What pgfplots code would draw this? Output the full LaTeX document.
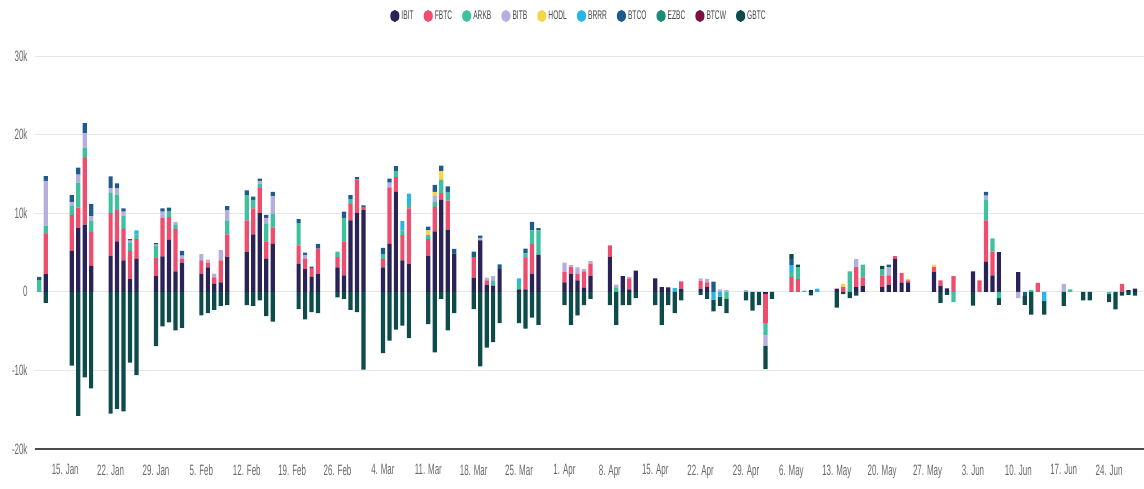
\documentclass[border=0pt]{standalone}
\usepackage{fontspec}
\setmainfont{Liberation Sans}[FakeStretch=0.53]
\usepackage{pgfplots}
\usepackage{pgfplotstable}
\pgfplotsset{compat=1.18}

\definecolor{cIBIT}{HTML}{2B2257}
\definecolor{cFBTC}{HTML}{EF4D6E}
\definecolor{cARKB}{HTML}{41C0A0}
\definecolor{cBITB}{HTML}{B5AEE0}
\definecolor{cHODL}{HTML}{F7D347}
\definecolor{cBRRR}{HTML}{29B6E6}
\definecolor{cBTCO}{HTML}{1E5A8C}
\definecolor{cEZBC}{HTML}{1C8C76}
\definecolor{cBTCW}{HTML}{7C1140}
\definecolor{cGBTC}{HTML}{0E4B4B}
\definecolor{TickText}{HTML}{666666}
\definecolor{LegText}{HTML}{444444}
\definecolor{GridColor}{HTML}{E6E6E6}
\definecolor{AxisColor}{HTML}{4D4D4D}

% daily net flows in thousand BTC, d = day of year 2024
\pgfplotstableread{
d ibit fbtc arkb bitb hodl brrr btco ezbc btcw gbtc
11 0 0 1.5 0 0 0 0.4 0 0 0
12 2.25 5.1 1.06 5.7 0 0 0.6 0 0 -1.4
16 5.2 4.6 1.2 0.4 0 0 0.9 0 0 -9.4
17 8.1 2.6 3.2 1.0 0 0 0.9 0 0 -15.8
18 8.55 8.5 1.3 1.8 0 0 1.3 0 0 -10.9
19 3.3 4.3 1.4 0.6 0 0 1.6 0 0 -12.3
22 4.6 5.4 2.6 0.6 0 0 1.5 0 0 -15.5
23 6.4 4.0 2.0 0.8 0 0 0.6 0 0 -14.9
24 4.0 4.0 1.7 0.5 0 0 0.4 0 0 -15.2
25 1.6 3.6 1.1 0.2 0 0 0.2 0 0 -9.0
26 4.2 2.5 0.6 0 0 0.5 0 0 0 -10.6
29 2.0 2.3 1.5 0.2 0 0 0.2 0 0 -6.9
30 4.5 4.9 0 0.8 0 0 0.4 0 0 -4.4
31 6.6 2.9 0.8 0 0 0 0.4 0 0 -3.9
32 2.6 5.4 0.5 0.4 0 0 0 0 0 -4.9
33 3.7 0.5 0 0.4 0 0 0.6 0 0 -4.6
36 2.3 1.7 0 0.8 0 0 0 0 0 -3.0
37 3.1 0.6 0 0.4 0 0 0 0 0 -2.7
38 1.0 0.85 0 0.45 0 0 0 0 0 -2.3
39 1.2 2.8 0 1.3 0 0 0 0 0 -1.8
40 4.4 2.9 1.8 1.3 0 0 0.5 0 0 -1.7
43 5.1 4.0 3.2 0 0 0 0.6 0 0 -1.7
44 7.3 3.3 1.1 0 0 0 0.4 0 0 -1.8
45 10.0 3.2 0.5 0.4 0 0 0.3 0 0 -1.1
46 4.2 2.2 2.3 0.7 0 0 0.4 0 0 -3.1
47 6.1 2.1 1.7 2.3 0 0 0.5 0 0 -3.8
51 3.6 2.3 2.85 0 0 0 0.5 0 0 -2.2
52 2.9 1.3 0 0.5 0 0 0.3 0 0 -3.5
53 1.9 1.1 0 0 0 0 0.2 0 0 -2.6
54 2.3 3.2 0 0 0 0 0.6 0 0 -2.7
57 3.1 1.3 0.7 0 0 0 0 0 0 -0.7
58 2.1 4.3 3.0 0 0 0 0.8 0 0 -0.9
59 9.1 2.1 0.6 0 0 0 0.5 0 0 -2.3
60 10.0 4.3 0 0 0 0 0.3 0 0 -2.6
61 10.4 0.4 0 0 0 0 0.2 0 0 -9.9
64 3.1 1.1 0.6 0 0 0 0.8 0 0 -7.8
65 6.1 7.2 0 0.6 0 0 0.5 0 0 -6.2
66 12.7 1.9 0.8 0 0 0 0.6 0 0 -4.8
67 4.0 3.2 0.6 0 0 1.2 0 0 0 -4.3
68 3.6 7.0 0.6 0 0 1.3 0 0 0 -5.9
71 4.6 2.1 0.5 0 0.6 0 0.5 0 0 -4.1
72 7.7 3.1 0.6 0.8 0.5 0 0.9 0 0 -7.7
73 11.7 0.85 1.7 0 1.1 0 0.7 0 0 -0.9
74 7.9 3.7 1.1 0 0 0 0.7 0 0 -4.9
75 4.85 0 0 0 0 0 0.6 0 0 -2.7
78 1.8 2.6 0 0 0 0 0.7 0 0 -2.2
79 6.55 0 0 0.3 0 0 0.3 0 0 -9.5
80 0.9 0.55 0 0.35 0 0 0 0 0 -7.1
81 0.8 0 0.6 0.6 0 0 0 0 0 -6.4
82 2.9 0 0 0 0 0 0.6 0 0 -4.0
85 0.3 0 0.8 0 0 0.6 0 0 0 -4.0
86 0.3 4.0 0.6 0 0 0 0.6 0 0 -4.7
87 2.3 3.8 1.7 0 0 0 1.1 0 0 -3.3
88 4.7 0 3.1 0 0 0 0.3 0 0 -4.2
92 1.2 1.3 0 1.2 0 0 0 0 0 -1.7
93 2.3 0.85 0 0.25 0 0 0 0 0 -4.2
94 1.45 0.85 0 0.8 0 0 0 0 0 -3.0
95 0.5 2.1 0 0.3 0 0 0 0 0 -1.7
96 2.0 1.6 0 0.3 0 0 0 0 0 -0.9
99 4.4 1.5 0 0 0 0 0 0 0 -1.7
100 0 0 0.5 0.4 0 0 0 0 0 -4.2
101 2.0 0 0 0 0 0 0 0 0 -1.7
102 0.3 1.4 0 0.2 0 0 0 0 0 -1.7
103 2.7 0 0 0 0 0 0 0 0 -0.8
106 1.7 0 0 0 0 0 0 0 0 -1.7
107 0.6 0 0 0 0 0 0 0 0 -4.2
108 0.55 0 0 0 0 0 0 0 0 -1.7
109 0 0 0 0 0 0.5 0 0 0 -2.7
110 0.4 0.85 0 0.15 0 0 0 0 0 -1.1
113 0.4 0.95 0 0.35 0 0 0 0 0 -0.4
114 0.6 0.6 0 0.45 0 0 0 0 0 -0.9
115 0 0 0 0 0 -1.0 1.3 0 0 -1.5
116 0 0 0 0.3 0 -0.6 0 0 0 -1.2
117 0 0 -0.9 0.2 0 0 0 0 0 -1.8
120 0 0 0 0.2 0 0 0 0 0 -1.1
121 0 0 0 0 0 0 0 0 0 -2.4
122 0 0 0 0 0 0 0 0 0 -1.7
123 -0.25 -3.7 -1.6 -1.3 0 0 0 0 0 -3.0
124 0 0 0 0 0 0 0 0 0 -0.9
127 0 1.9 0.6 0 0 0.9 0.8 0 0 0.6
128 0 1.65 1.5 0 0 0 0 0 0 0.3
129 0 0 0.15 0 0 0 0 0 0 0
130 0.2 0 0 0 0 0 0 0 0 -0.45
131 0 0 0 0 0 0.4 0 0 0 0
134 0.4 0 0 0 0 0 0 0 0 -2.0
135 0 0.6 0 0 0.4 0 0 0 0 -0.3
136 0 0 2.6 0 0 0 0 0 0 -0.8
137 0.6 2.55 0 1.0 0 0 0 0 0 -0.5
138 0.8 1.05 1.6 0 0 0 0 0 0 0
141 0.6 1.5 0.8 0 0 0 0 0 0 0.4
142 0.9 1.2 0 1.05 0 0 0.3 0 0 0
143 4.2 0.35 0 0 0 0 0 0 0 0
144 1.15 1.25 0 0 0 0 0 0 0 0
145 1.2 0.25 0 0 0.2 0 0 0 0 0
149 2.5 0.65 0 0 0.3 0 0 0 0 0
150 0.8 0.65 0 0 0 0 0 0 0 -1.4
151 0.45 0 0 0 0 0 0 0 0 -0.4
152 0 2.0 -1.3 0 0 0 0 0 0 0
155 2.6 0 0 0 0 0 0 0 0 -1.75
156 0 1.45 0 0 0 0 0 0 0 0
157 3.8 5.3 2.55 0.6 0 0 0.45 0 0 0
158 2.1 3.0 1.7 0 0 0 0 0 0 0
159 5.05 0 -0.8 0 0 0 0 0 0 -0.85
162 2.5 0 0 -0.8 0 0 0 0 0 0
163 0 0 0 0 0 0 -0.5 0 0 -1.15
164 0 0 0.2 0 0 0 0 0 0 -2.9
165 0 1.15 0 0 0 0 0 0 0 0
166 0 0 0 0 0 -1.2 0 0 0 -1.7
169 0 0 0 1.0 0 0 0 0 0 -1.8
170 0 0 0.3 0 0 0 0 0 0 0
172 0 0 0 0 0 0 0 0 0 -1.1
173 0 0 0 0 0 0 0 0 0 -1.1
176 0 0 -0.3 0 0 0 0 0 0 -1.0
177 0 0 0 0 0 0 0 0 0 -2.25
178 0 1.0 0 0 0 0 0 0 0 -0.5
179 0.2 0 0 0 0 0 0 0 0 -0.4
180 0.4 0 0 0 0 0 0 0 0 -0.5
}\flows

\pgfplotsset{
    flowaxis/.style={
        at={(35pt,39pt)},
        anchor=south west,
        scale only axis,
        width=1109pt,
        height=393pt,
        xmin=10.34,
        xmax=181.38,
        ymin=-20,
        ymax=30,
        ybar stacked,
        bar width=4.2pt
    },
    legdot/.style={
        legend image code/.code={
            \fill[#1] (0pt,0pt) ellipse (4.6pt and 6pt);
        }
    }
}

\begin{document}
\begin{tikzpicture}
\path[use as bounding box] (0,0) rectangle (1144pt,488pt);

% ========================================================
% inflows (positive stack), grid, ticks and legend
% ========================================================
\begin{axis}[
    flowaxis,
    axis x line*=bottom,
    axis y line*=left,
    y axis line style={draw=none},
    x axis line style={AxisColor, line width=2pt},
    major tick length=0pt,
    ytick={-20,-10,0,10,20,30},
    yticklabels={-20k,-10k,0,10k,20k,30k},
    xtick={15,22,29,36,43,50,57,64,71,78,85,92,99,106,113,120,127,134,141,148,155,162,169,176},
    xticklabels={15. Jan,22. Jan,29. Jan,5. Feb,12. Feb,19. Feb,26. Feb,4. Mar,11. Mar,18. Mar,25. Mar,1. Apr,8. Apr,15. Apr,22. Apr,29. Apr,6. May,13. May,20. May,27. May,3. Jun,10. Jun,17. Jun,24. Jun},
    ticklabel style={
        text=TickText,
        font=\fontsize{15}{15}\selectfont
    },
    yticklabel style={xshift=-4pt},
    xticklabel style={yshift=-12pt},
    ymajorgrids=true,
    grid style={GridColor, line width=1pt},
    legend columns=10,
    legend cell align=left,
    legend style={
        draw=none,
        fill=none,
        text=LegText,
        font=\fontsize{12.5}{12.5}\selectfont,
        at={(0.4905,1.1018)},
        anchor=center,
        /tikz/every even column/.append style={column sep=8pt}
    }
]
\addplot+[fill=cIBIT, draw=none, legdot=cIBIT] table[x=d, y expr={max(\thisrow{ibit},0)}] {\flows};
\addlegendentry{IBIT}
\addplot+[fill=cFBTC, draw=none, legdot=cFBTC] table[x=d, y expr={max(\thisrow{fbtc},0)}] {\flows};
\addlegendentry{FBTC}
\addplot+[fill=cARKB, draw=none, legdot=cARKB] table[x=d, y expr={max(\thisrow{arkb},0)}] {\flows};
\addlegendentry{ARKB}
\addplot+[fill=cBITB, draw=none, legdot=cBITB] table[x=d, y expr={max(\thisrow{bitb},0)}] {\flows};
\addlegendentry{BITB}
\addplot+[fill=cHODL, draw=none, legdot=cHODL] table[x=d, y expr={max(\thisrow{hodl},0)}] {\flows};
\addlegendentry{HODL}
\addplot+[fill=cBRRR, draw=none, legdot=cBRRR] table[x=d, y expr={max(\thisrow{brrr},0)}] {\flows};
\addlegendentry{BRRR}
\addplot+[fill=cBTCO, draw=none, legdot=cBTCO] table[x=d, y expr={max(\thisrow{btco},0)}] {\flows};
\addlegendentry{BTCO}
\addplot+[fill=cEZBC, draw=none, legdot=cEZBC] table[x=d, y expr={max(\thisrow{ezbc},0)}] {\flows};
\addlegendentry{EZBC}
\addplot+[fill=cBTCW, draw=none, legdot=cBTCW] table[x=d, y expr={max(\thisrow{btcw},0)}] {\flows};
\addlegendentry{BTCW}
\addplot+[fill=cGBTC, draw=none, legdot=cGBTC] table[x=d, y expr={max(\thisrow{gbtc},0)}] {\flows};
\addlegendentry{GBTC}
\end{axis}

% ========================================================
% outflows (negative stack), same frame, no decorations
% ========================================================
\begin{axis}[flowaxis, hide axis]
\addplot+[fill=cIBIT, draw=none] table[x=d, y expr={min(\thisrow{ibit},0)}] {\flows};
\addplot+[fill=cFBTC, draw=none] table[x=d, y expr={min(\thisrow{fbtc},0)}] {\flows};
\addplot+[fill=cARKB, draw=none] table[x=d, y expr={min(\thisrow{arkb},0)}] {\flows};
\addplot+[fill=cBITB, draw=none] table[x=d, y expr={min(\thisrow{bitb},0)}] {\flows};
\addplot+[fill=cHODL, draw=none] table[x=d, y expr={min(\thisrow{hodl},0)}] {\flows};
\addplot+[fill=cBRRR, draw=none] table[x=d, y expr={min(\thisrow{brrr},0)}] {\flows};
\addplot+[fill=cBTCO, draw=none] table[x=d, y expr={min(\thisrow{btco},0)}] {\flows};
\addplot+[fill=cEZBC, draw=none] table[x=d, y expr={min(\thisrow{ezbc},0)}] {\flows};
\addplot+[fill=cBTCW, draw=none] table[x=d, y expr={min(\thisrow{btcw},0)}] {\flows};
\addplot+[fill=cGBTC, draw=none] table[x=d, y expr={min(\thisrow{gbtc},0)}] {\flows};
\end{axis}
\end{tikzpicture}
\end{document}
